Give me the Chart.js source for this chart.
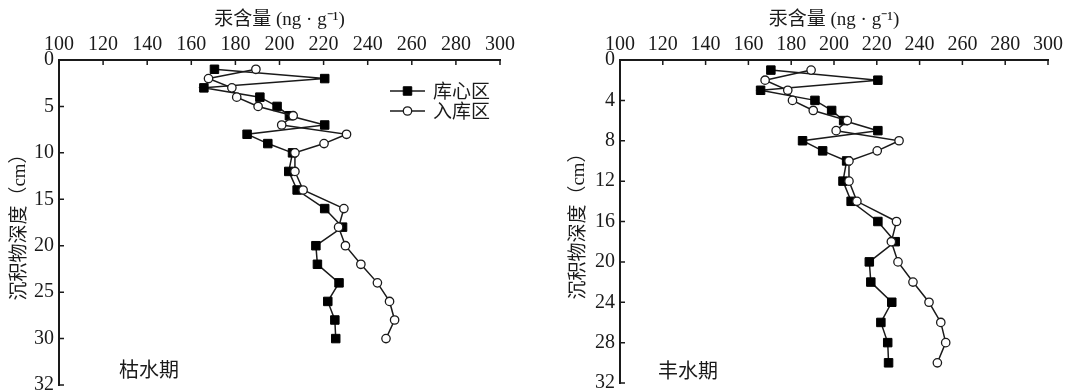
<!DOCTYPE html>
<html>
<head>
<meta charset="utf-8">
<script src="https://cdn.jsdelivr.net/npm/chart.js@4/dist/chart.umd.min.js"></script>
<style>
  body { margin: 0; background: #fff; }
  #wrap { display: flex; width: 1077px; height: 392px; }
</style>
</head>
<body>
<div id="wrap">
  <canvas id="dry" width="540" height="392"></canvas>
  <canvas id="wet" width="537" height="392"></canvas>
</div>
<script>
// depth of each sample (cm)
const depths = [1, 2, 3, 4, 5, 6, 7, 8, 9, 10, 12, 14, 16, 18, 20, 22, 24, 26, 28, 30];
// mercury content (ng/g)
const kuxinqu = [170.5, 220.5, 165.7, 191.1, 198.9, 204.5, 220.5, 185.3, 194.7, 205.9,
                 204.2, 208.0, 220.5, 228.6, 216.5, 217.2, 227.0, 221.9, 225.1, 225.5];
const rukuqu = [189.3, 167.8, 178.4, 180.6, 190.3, 206.2, 201.0, 230.4, 220.2, 207.0,
                207.0, 210.7, 229.2, 226.8, 229.9, 236.9, 244.4, 249.9, 252.2, 248.3];
const seriesNames = ['库心区', '入库区'];

const xTicks = [100, 120, 140, 160, 180, 200, 220, 240, 260, 280, 300];
const dryDepthTicks = [0, 5, 10, 15, 20, 25, 30, 35];
const dryDepthLabels = ['0', '5', '10', '15', '20', '25', '30', '32'];
const wetDepthTicks = [0, 4, 8, 12, 16, 20, 24, 28, 32];
const wetDepthLabels = ['0', '4', '8', '12', '16', '20', '24', '28', '32'];

const xTitle = '汞含量 (ng · g⁻¹)';
const yTitle = '沉积物深度（cm）';
const periods = ['枯水期', '丰水期'];

const SERIF = "'Liberation Serif', 'Noto Sans CJK SC', serif";
const CJK = "'Noto Sans CJK SC', sans-serif";
const INK = '#1a1a1a';

function pts(vals) {
  return vals.map((v, i) => ({ x: v, y: depths[i] }));
}

// ticks pointing into the plot
const innerTicks = {
  id: 'innerTicks',
  afterDraw(chart) {
    const { ctx, chartArea } = chart;
    const { x, y } = chart.scales;
    ctx.save();
    ctx.strokeStyle = INK;
    ctx.lineWidth = 1.5;
    ctx.beginPath();
    x.ticks.forEach(t => {
      const px = x.getPixelForValue(t.value);
      ctx.moveTo(px, chartArea.top);
      ctx.lineTo(px, chartArea.top + 5);
    });
    y.ticks.forEach(t => {
      const py = y.getPixelForValue(t.value);
      ctx.moveTo(chartArea.left, py);
      ctx.lineTo(chartArea.left + 5, py);
    });
    ctx.stroke();
    ctx.restore();
  }
};

function drawMarker(ctx, ds, cx, cy) {
  ctx.fillStyle = ds.pointBackgroundColor;
  ctx.strokeStyle = ds.pointBorderColor;
  ctx.lineWidth = ds.pointBorderWidth;
  ctx.beginPath();
  if (ds.pointStyle === 'rect') {
    const h = ds.pointRadius * Math.SQRT1_2;
    ctx.rect(cx - h, cy - h, 2 * h, 2 * h);
  } else {
    ctx.arc(cx, cy, ds.pointRadius, 0, Math.PI * 2);
  }
  ctx.fill();
  ctx.stroke();
}

const lineLegend = {
  id: 'lineLegend',
  afterDraw(chart, args, opts) {
    if (!opts.show) return;
    const ctx = chart.ctx;
    chart.data.datasets.forEach((ds, i) => {
      const y = opts.y + i * opts.gap;
      ctx.save();
      ctx.strokeStyle = ds.borderColor;
      ctx.lineWidth = ds.borderWidth;
      ctx.beginPath();
      ctx.moveTo(opts.x, y);
      ctx.lineTo(opts.x + opts.len, y);
      ctx.stroke();
      drawMarker(ctx, ds, opts.x + opts.len / 2, y);
      ctx.fillStyle = INK;
      ctx.font = '19px ' + CJK;
      ctx.textBaseline = 'middle';
      ctx.fillText(ds.label, opts.x + opts.len + 8, y);
      ctx.restore();
    });
  }
};

const periodLabel = {
  id: 'periodLabel',
  afterDraw(chart, args, opts) {
    const ctx = chart.ctx;
    ctx.save();
    ctx.fillStyle = INK;
    ctx.font = '20px ' + CJK;
    ctx.textBaseline = 'middle';
    ctx.fillText(opts.text, opts.x, opts.y);
    ctx.restore();
  }
};

function makeChart(id, o) {
  new Chart(document.getElementById(id), {
    type: 'scatter',
    data: {
      datasets: [
        {
          label: seriesNames[0],
          data: pts(kuxinqu),
          showLine: true,
          borderColor: INK,
          borderWidth: 1.5,
          pointStyle: 'rect',
          pointRadius: 6,
          pointBackgroundColor: '#000',
          pointBorderColor: '#000',
          pointBorderWidth: 1,
          order: 1
        },
        {
          label: seriesNames[1],
          data: pts(rukuqu),
          showLine: true,
          borderColor: INK,
          borderWidth: 1.5,
          pointStyle: 'circle',
          pointRadius: 4.2,
          pointBackgroundColor: '#fff',
          pointBorderColor: INK,
          pointBorderWidth: 1.3,
          order: 0
        }
      ]
    },
    options: {
      responsive: false,
      animation: false,
      layout: { padding: { left: 0, top: 0, right: o.padRight, bottom: o.padBottom } },
      plugins: {
        legend: { display: false },
        tooltip: { enabled: false },
        lineLegend: o.legend,
        periodLabel: o.period
      },
      scales: {
        x: {
          type: 'linear',
          position: 'top',
          min: 100,
          max: 300,
          afterBuildTicks: s => { s.ticks = xTicks.map(v => ({ value: v })); },
          afterFit: s => { s.height = 60; s.paddingLeft = 0; s.paddingRight = 0; },
          grid: { display: false, drawTicks: false },
          border: { display: true, color: INK, width: 2 },
          ticks: { color: INK, padding: 3, maxRotation: 0, autoSkip: false, font: { family: SERIF, size: 20 } },
          title: { display: true, text: xTitle, color: INK, padding: { top: 9, bottom: 0 }, font: { family: SERIF, size: 19 } }
        },
        y: {
          type: 'linear',
          reverse: true,
          min: 0,
          max: o.depthTicks[o.depthTicks.length - 1],
          afterBuildTicks: s => { s.ticks = o.depthTicks.map(v => ({ value: v })); },
          afterFit: s => { s.width = o.yWidth; s.paddingTop = 0; s.paddingBottom = 0; },
          grid: { display: false, drawTicks: false },
          border: { display: true, color: INK, width: 2 },
          ticks: {
            color: INK, padding: 5, autoSkip: false, font: { family: SERIF, size: 20 },
            callback: (v, i) => o.depthLabels[i]
          },
          title: { display: true, text: yTitle, color: INK, padding: { top: o.yTitlePad, bottom: 0 }, font: { family: SERIF, size: 19 } }
        }
      }
    },
    plugins: [innerTicks, lineLegend, periodLabel]
  });
}

makeChart('dry', {
  depthTicks: dryDepthTicks,
  depthLabels: dryDepthLabels,
  yWidth: 59,
  yTitlePad: 9,
  padRight: 40,
  padBottom: 7,
  legend: { show: true, x: 390, y: 91, gap: 20, len: 35 },
  period: { text: periods[0], x: 119, y: 369 }
});

makeChart('wet', {
  depthTicks: wetDepthTicks,
  depthLabels: wetDepthLabels,
  yWidth: 80,
  yTitlePad: 28,
  padRight: 29,
  padBottom: 9,
  legend: { show: false },
  period: { text: periods[1], x: 118, y: 370 }
});
</script>
</body>
</html>
